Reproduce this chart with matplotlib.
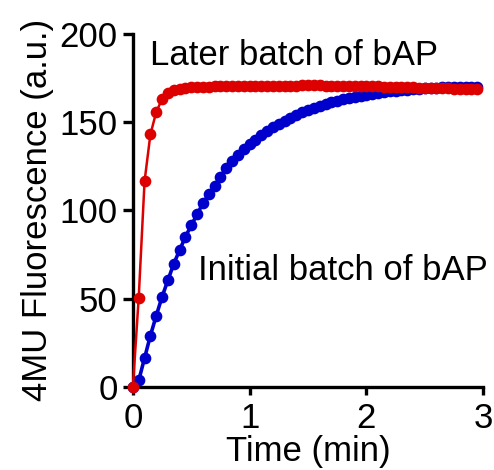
import numpy as np
import matplotlib
matplotlib.use("Agg")
import matplotlib.pyplot as plt

plt.rcParams['font.family'] = ['Liberation Sans', 'DejaVu Sans']

# sampling every 3 s (0.05 min)
time_min = np.round(np.arange(60) * 0.05, 2)

initial_batch = [
    0.0, 3.6, 16.3, 29.0, 40.3, 51.0, 60.4, 69.7, 77.4, 85.0,
    91.5, 97.7, 104.0, 109.0, 114.0, 119.0, 124.0, 128.0, 131.5, 134.5,
    137.5, 140.0, 142.5, 144.8, 147.0, 149.0, 150.8, 152.5, 154.0, 155.5,
    156.8, 158.0, 159.2, 160.2, 161.2, 162.1, 163.0, 163.7, 164.4, 165.0,
    165.6, 166.1, 166.6, 167.0, 167.4, 167.8, 168.1, 168.4, 168.7, 168.9,
    169.1, 169.3, 169.5, 169.6, 169.7, 169.8, 169.9, 170.0, 170.0, 170.0,
]

later_batch = [
    0.0, 50.6, 116.5, 143.0, 155.7, 163.0, 166.5, 168.2, 169.0, 169.4,
    169.6, 169.8, 170.0, 170.1, 170.2, 170.2, 170.3, 170.3, 170.4, 170.4,
    170.5, 170.5, 170.5, 170.6, 170.6, 170.6, 170.7, 170.7, 170.7, 170.8,
    170.8, 170.8, 170.8, 170.7, 170.7, 170.7, 170.6, 170.6, 170.5, 170.5,
    170.4, 170.3, 170.2, 170.1, 170.0, 169.9, 169.8, 169.7, 169.6, 169.5,
    169.4, 169.3, 169.2, 169.2, 169.1, 169.0, 169.0, 168.9, 168.9, 168.8,
]

fig = plt.figure(figsize=(4.94, 4.70), dpi=100)
ax = fig.add_axes([0.269, 0.177, 0.709, 0.751])

ax.plot(time_min, initial_batch, color='#0000cc', lw=2.6, marker='o',
        ms=7.4, mec='#0000cc', mfc='#0000cc', clip_on=False, zorder=3)
ax.plot(time_min, later_batch, color='#dd0000', lw=1.8, marker='o',
        ms=7.4, mec='#dd0000', mfc='#dd0000', clip_on=False, zorder=4)

ax.text(0.146, 182.4, 'Later batch of bAP', fontsize=25, ha='left', va='baseline')
ax.text(0.557, 60.8, 'Initial batch of bAP', fontsize=25, ha='left', va='baseline')

ax.set_xlim(0, 3)
ax.set_ylim(0, 200)
ax.set_xticks([0, 1, 2, 3])
ax.set_yticks([0, 50, 100, 150, 200])

for side in ('top', 'right'):
    ax.spines[side].set_visible(False)
for side in ('left', 'bottom'):
    ax.spines[side].set_linewidth(2.4)
ax.tick_params(axis='both', direction='out', length=7, width=2.4,
               labelsize=25, pad=4)
ax.tick_params(axis='x', length=6, pad=5)

ax.set_xlabel('Time (min)', fontsize=25, labelpad=0)
ax.set_ylabel('4MU Fluorescence (a.u.)', fontsize=25, labelpad=4)

fig.savefig('out.png', dpi=100)
